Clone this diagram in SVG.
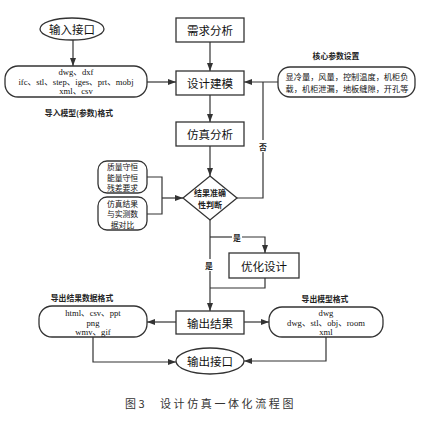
<svg xmlns="http://www.w3.org/2000/svg" width="423" height="426" viewBox="0 0 423 426">
<defs>
<marker id="ah" markerWidth="8" markerHeight="6" refX="8" refY="3" orient="auto" markerUnits="userSpaceOnUse">
<path d="M0,0 L8,3 L0,6 z" fill="#333"/>
</marker>
<style>
.box{fill:#fff;stroke:#333;stroke-width:1.3}
.ln{fill:none;stroke:#333;stroke-width:1.2}
.arr{fill:none;stroke:#333;stroke-width:1.2;marker-end:url(#ah)}
.nt{font-family:"Noto Sans CJK SC","Noto Sans",sans-serif;font-size:11.5px;fill:#111;text-anchor:middle;dominant-baseline:central}
.st{font-family:"Noto Sans CJK SC","Noto Sans",sans-serif;font-size:7.8px;font-weight:bold;fill:#222;text-anchor:middle;dominant-baseline:central}
.dt{font-family:"Noto Sans CJK SC","Noto Sans",sans-serif;font-size:8px;font-weight:bold;fill:#222;text-anchor:middle;dominant-baseline:central}
.lt{font-family:"Liberation Serif","Noto Sans CJK SC",serif;font-size:8.6px;fill:#111;text-anchor:middle;dominant-baseline:central}
.ct{font-family:"Noto Sans CJK SC",sans-serif;font-size:8.2px;fill:#111;text-anchor:middle;dominant-baseline:central}
.bt{font-family:"Noto Sans CJK SC",sans-serif;font-size:7.8px;fill:#111;text-anchor:middle;dominant-baseline:central}
.cap{font-family:"Noto Sans CJK SC",serif;font-size:11px;fill:#333;dominant-baseline:central;letter-spacing:2.6px}
</style>
</defs>
<rect width="423" height="426" fill="#fff"/>
<g id="connectors">
<line class="arr" x1="73" y1="40" x2="73" y2="66"/>
<line class="arr" x1="147" y1="82" x2="176" y2="82"/>
<line class="arr" x1="210" y1="42" x2="210" y2="71"/>
<line class="arr" x1="210" y1="95" x2="210" y2="122"/>
<line class="arr" x1="278" y1="82" x2="244" y2="82"/>
<line class="arr" x1="210" y1="146" x2="210" y2="176"/>
<polyline class="ln" points="237,198 263,198 263,152"/>
<line class="ln" x1="263" y1="140" x2="263" y2="82"/>
<polyline class="ln" points="147,177 162,177 162,214 147,214"/>
<line class="arr" x1="162" y1="198" x2="183" y2="198"/>
<line class="ln" x1="210" y1="220" x2="210" y2="259"/>
<line class="arr" x1="210" y1="271" x2="210" y2="311"/>
<line class="ln" x1="210" y1="237" x2="232" y2="237"/>
<polyline class="arr" points="242,237 265,237 265,253"/>
<polyline class="ln" points="265,278 265,288 210,288"/>
<line class="arr" x1="176" y1="322" x2="147" y2="322"/>
<line class="arr" x1="244" y1="322" x2="269" y2="322"/>
<polyline class="arr" points="93,337 93,362 176,362"/>
<polyline class="arr" points="326,337 326,361 244,361"/>
<text class="st" x="263" y="146">否</text>
<text class="st" x="237" y="237">是</text>
<text class="st" x="209" y="265">是</text>
</g>
<g id="input">
<ellipse class="box" cx="72" cy="29" rx="32" ry="11"/>
<text class="nt" x="72" y="29">输入接口</text>
</g>
<g id="import-formats">
<rect class="box" x="5" y="66" width="142" height="31" rx="13"/>
<text class="lt" x="76" y="72">dwg、dxf</text>
<text class="lt" x="76" y="81.5">ifc、stl、step、iges、prt、mobj</text>
<text class="lt" x="76" y="91">xml、csv</text>
<text class="st" x="79" y="112">导入模型(参数)格式</text>
</g>
<g id="requirement">
<rect class="box" x="176" y="18" width="68" height="24"/>
<text class="nt" x="210" y="30">需求分析</text>
</g>
<g id="design">
<rect class="box" x="176" y="71" width="68" height="24"/>
<text class="nt" x="210" y="83">设计建模</text>
</g>
<g id="core-params">
<text class="st" x="336" y="55">核心参数设置</text>
<rect class="box" x="278" y="67" width="137" height="30" rx="12"/>
<text class="ct" x="347" y="76">显冷量，风量，控制温度，机柜负</text>
<text class="ct" x="347" y="88">载，机柜泄漏，地板缝隙，开孔等</text>
</g>
<g id="simulation">
<rect class="box" x="176" y="122" width="68" height="24"/>
<text class="nt" x="210" y="134">仿真分析</text>
</g>
<g id="decision">
<polygon class="box" points="210,176 237,198 210,220 183,198"/>
<text class="dt" x="210" y="192">结果准确</text>
<text class="dt" x="210" y="204">性判断</text>
</g>
<g id="conservation">
<rect class="box" x="98" y="161" width="49" height="32" rx="9"/>
<text class="bt" x="122.5" y="166.5">质量守恒</text>
<text class="bt" x="122.5" y="177">能量守恒</text>
<text class="bt" x="122.5" y="187.5">残差要求</text>
</g>
<g id="comparison">
<rect class="box" x="98" y="197" width="49" height="33" rx="9"/>
<text class="bt" x="122.5" y="203">仿真结果</text>
<text class="bt" x="122.5" y="213.5">与实测数</text>
<text class="bt" x="122.5" y="224">据对比</text>
</g>
<g id="optimize">
<rect class="box" x="229" y="253" width="70" height="25"/>
<text class="nt" x="264" y="265.5">优化设计</text>
</g>
<g id="output">
<rect class="box" x="176" y="311" width="68" height="23"/>
<text class="nt" x="210" y="322.5">输出结果</text>
</g>
<g id="export-data">
<text class="st" x="82" y="297">导出结果数据格式</text>
<rect class="box" x="39" y="306" width="108" height="31" rx="13"/>
<text class="lt" x="93" y="313">html、csv、ppt</text>
<text class="lt" x="93" y="323">png</text>
<text class="lt" x="93" y="332">wmv、gif</text>
</g>
<g id="export-model">
<text class="st" x="325" y="298">导出模型格式</text>
<rect class="box" x="269" y="307" width="114" height="30" rx="13"/>
<text class="lt" x="326" y="313">dwg</text>
<text class="lt" x="326" y="322.5">dwg、stl、obj、room</text>
<text class="lt" x="326" y="332">xml</text>
</g>
<g id="output-port">
<ellipse class="box" cx="210" cy="361" rx="34" ry="13"/>
<text class="nt" x="210" y="361">输出接口</text>
</g>
<text class="cap" x="125" y="403">图3</text>
<text class="cap" x="160" y="403">设计仿真一体化流程图</text>
</svg>
